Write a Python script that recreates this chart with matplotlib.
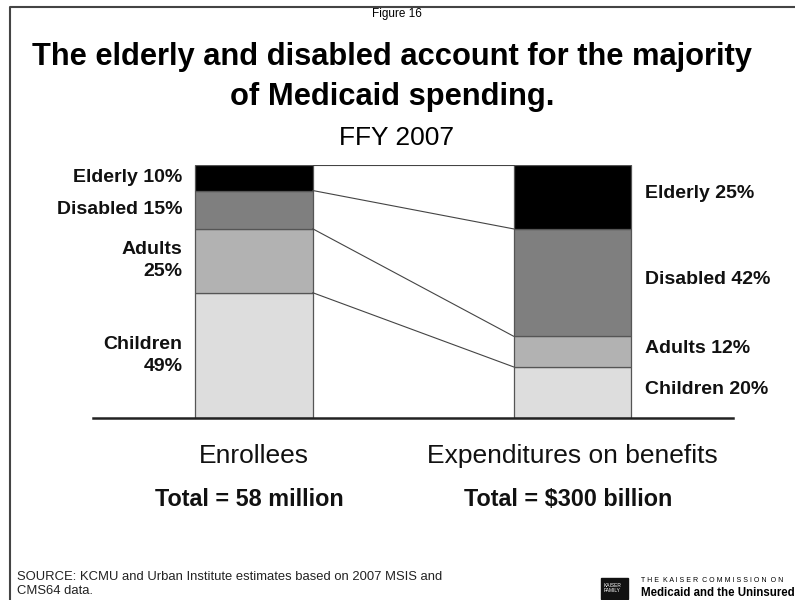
import matplotlib.pyplot as plt
from matplotlib import font_manager
from matplotlib.patches import Rectangle

# Veriler (%)
groups = ['Children', 'Adults', 'Disabled', 'Elderly']
enrollees = [49, 25, 15, 10]
spending = [20, 12, 42, 25]
bar_names = ['Enrollees', 'Expenditures on benefits']
totals = ['Total = 58 million', 'Total = $300 billion']
colors = ['#dddddd', '#b2b2b2', '#7f7f7f', '#000000']

installed = {f.name for f in font_manager.fontManager.ttflist}
narrow = 'Liberation Sans Narrow' if 'Liberation Sans Narrow' in installed else 'Liberation Sans'
plt.rcParams['font.family'] = ['Liberation Sans', 'DejaVu Sans']

fig = plt.figure(figsize=(7.95, 6), dpi=100)
ax = fig.add_axes([93 / 795, 1 - 418 / 600, 640 / 795, 253 / 600])

w = 0.37
data = [enrollees, spending]
for i, vals in enumerate(data):
    bottom = 0
    for v, c in zip(vals, colors):
        ax.bar(i, v, w, bottom=bottom, color=c, edgecolor='#555555', linewidth=0.9)
        bottom += v

# bağlantı çizgileri
cum_l = 0
cum_r = 0
for a, b in zip(enrollees, spending):
    cum_l += a
    cum_r += b
    ax.plot([w / 2, 1 - w / 2], [cum_l, cum_r], color='#444444', lw=0.8)

# etiketler
cum = 0
for g, v in zip(groups, enrollees):
    txt = f'{g}\n{v}%' if g in ('Children', 'Adults') else f'{g} {v}%'
    ax.text(-w / 2 - 0.04, cum + v / 2, txt, ha='right', va='center',
            fontsize=14, fontweight='bold', color='#111111',
            linespacing=1.4, clip_on=False)
    cum += v
cum = 0
for g, v in zip(groups, spending):
    ax.text(1 + w / 2 + 0.044, cum + v / 2 + 1.3, f'{g} {v}%', ha='left', va='center',
            fontsize=14, fontweight='bold', color='#111111', clip_on=False)
    cum += v

ax.set_xlim(-0.5055, 1.504)
ax.set_ylim(0, max(sum(enrollees), sum(spending)))
for s in ['top', 'right', 'left']:
    ax.spines[s].set_visible(False)
ax.spines['bottom'].set_linewidth(1.8)
ax.spines['bottom'].set_color('#222222')
ax.set_yticks([])
ax.set_xticks([0, 1])
ax.set_xticklabels(bar_names, fontsize=19, color='#111111')
ax.tick_params(axis='x', length=0, pad=19)

for i, t in enumerate(totals):
    ax.annotate(t, xy=(i, 0), xytext=(-3, -58.5), textcoords='offset points',
                ha='center', va='center', fontsize=16.8, fontweight='bold',
                color='#111111', annotation_clip=False)

# başlıklar
fig.text(397 / 795, 1 - 14 / 600, 'Figure 16', ha='center', va='center',
         fontsize=8.5, family=narrow)
fig.text(392 / 795, 1 - 57 / 600, 'The elderly and disabled account for the majority',
         ha='center', va='center', fontsize=22.2, fontweight='bold')
fig.text(392 / 795, 1 - 97 / 600, 'of Medicaid spending.',
         ha='center', va='center', fontsize=22.2, fontweight='bold')
fig.text(397 / 795, 1 - 138 / 600, 'FFY 2007', ha='center', va='center',
         fontsize=19, family=narrow)

fig.text(17 / 795, 1 - 584 / 600,
         'SOURCE: KCMU and Urban Institute estimates based on 2007 MSIS and\nCMS64 data.',
         ha='left', va='center', fontsize=9.4, family=narrow, linespacing=1.15,
         color='#222222')

# çerçeve
fig.add_artist(plt.Line2D([10 / 795, 10 / 795, 1], [0, 1 - 7 / 600, 1 - 7 / 600],
                          transform=fig.transFigure, color='#444444', lw=1.5))

# logo
fig.add_artist(Rectangle((601 / 795, 1 - 599 / 600), 27 / 795, 21 / 600,
                         transform=fig.transFigure, color='#111111'))
fig.text(604 / 795, 1 - 588 / 600, 'KAISER\nFAMILY', color='white', fontsize=3.5,
         ha='left', va='center', family=narrow)
fig.text(641 / 795, 1 - 581 / 600, 'T H E  K A I S E R  C O M M I S S I O N  O N',
         ha='left', va='center', fontsize=5.0, family=narrow)
fig.text(641 / 795, 1 - 593 / 600, 'Medicaid and the Uninsured',
         ha='left', va='center', fontsize=8.3, fontweight='bold')

fig.savefig('out.png', dpi=100)
